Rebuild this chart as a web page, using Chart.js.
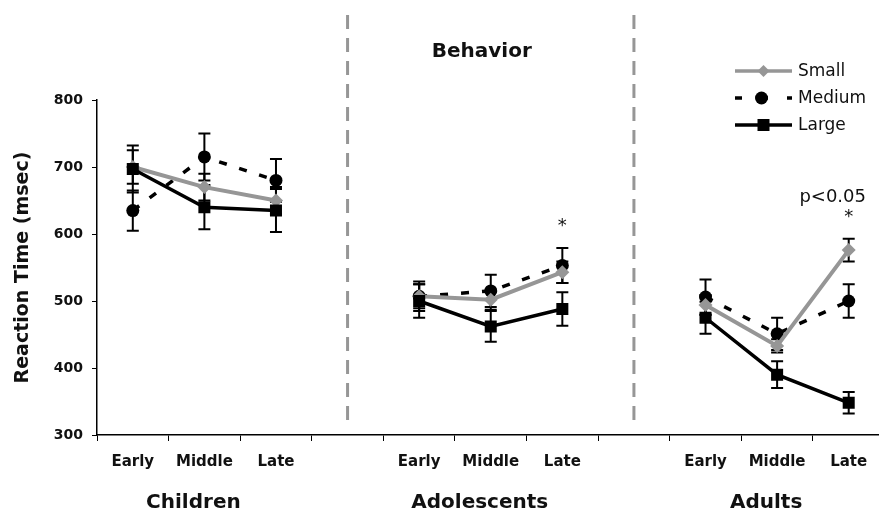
<!DOCTYPE html>
<html>
<head>
<meta charset="utf-8">
<script src="https://cdn.jsdelivr.net/npm/chart.js@4/dist/chart.umd.min.js"></script>
<style>
  body { margin: 0; background: #fff; }
  #wrap { width: 879px; height: 511px; overflow: hidden; }
</style>
</head>
<body>
<div id="wrap"><canvas id="rtChart" width="893" height="511"></canvas></div>
<script>
  // categories: three stages per age group, empty slots between groups
  const stages = ['Early', 'Middle', 'Late', '', 'Early', 'Middle', 'Late', '', 'Early', 'Middle', 'Late'];
  const groups = ['Children', 'Adolescents', 'Adults'];
  const groupIndex = [1, 5, 9];
  const gapIndex = [3, 7];

  // reaction time (msec)
  const smallRT  = [700, 670, 650, null, 507, 502, 543, null, 494, 433, 576];
  const mediumRT = [635, 715, 680, null, 507, 515, 553, null, 506, 451, 500];
  const largeRT  = [697, 640, 635, null, 500, 462, 488, null, 475, 390, 348];

  // error bar half lengths
  const smallErr  = [25, 20, 20, null, 18, 15, 16, null, 15, 10, 17];
  const mediumErr = [30, 35, 32, null, 22, 24, 26, null, 26, 24, 25];
  const largeErr  = [35, 33, 32, null, 25, 23, 25, null, 24, 20, 16];

  const yTicks = [300, 400, 500, 600, 700, 800];

  const gray = 'rgb(150,150,150)';
  const font = "'DejaVu Sans', Verdana, sans-serif";

  const errorBars = {
    id: 'errorBars',
    beforeDatasetsDraw(chart) {
      const { ctx, scales: { x, y } } = chart;
      const sets = [[smallRT, smallErr], [mediumRT, mediumErr], [largeRT, largeErr]];
      ctx.save();
      ctx.strokeStyle = '#000';
      ctx.lineWidth = 2;
      sets.forEach(([vals, errs]) => {
        vals.forEach((v, i) => {
          if (v === null) return;
          const px = x.getPixelForValue(i);
          const top = y.getPixelForValue(v + errs[i]);
          const bot = y.getPixelForValue(v - errs[i]);
          ctx.beginPath();
          ctx.moveTo(px, top); ctx.lineTo(px, bot);
          ctx.moveTo(px - 6, top); ctx.lineTo(px + 6, top);
          ctx.moveTo(px - 6, bot); ctx.lineTo(px + 6, bot);
          ctx.stroke();
        });
      });
      ctx.restore();
    }
  };

  const decorations = {
    id: 'decorations',
    beforeDraw(chart) {
      const { ctx, chartArea, scales: { x } } = chart;
      ctx.save();
      ctx.strokeStyle = gray;
      ctx.lineWidth = 3;
      ctx.setLineDash([14, 9]);
      gapIndex.forEach(i => {
        const px = x.getPixelForValue(i);
        ctx.beginPath();
        ctx.moveTo(px, 15);
        ctx.lineTo(px, chartArea.bottom - 8);
        ctx.stroke();
      });
      ctx.restore();
    },
    afterDraw(chart) {
      const { ctx, scales: { x, y } } = chart;
      ctx.save();
      ctx.fillStyle = '#111';
      ctx.textAlign = 'center';
      ctx.textBaseline = 'alphabetic';

      // group names under the stage labels
      ctx.font = 'bold 20px ' + font;
      groups.forEach((g, k) => {
        ctx.fillText(g, x.getPixelForValue(groupIndex[k]) - 11, 508);
      });

      // panel title
      ctx.font = 'bold 20px ' + font;
      ctx.fillText('Behavior', x.getPixelForValue(5) - 9, 57);

      // significance marks
      ctx.textBaseline = 'middle';
      ctx.font = '18px ' + font;
      ctx.fillText('*', x.getPixelForValue(6), y.getPixelForValue(612));
      ctx.fillText('*', x.getPixelForValue(10), y.getPixelForValue(625));
      ctx.font = '18px ' + font;
      ctx.fillText('p<0.05', x.getPixelForValue(10) - 16, y.getPixelForValue(655));

      // legend
      const lx = 735, lw = 57;
      const rows = [
        { label: 'Small', y: 71, color: gray, dash: [], style: 'diamond' },
        { label: 'Medium', y: 98, color: '#000', dash: [7, 19], style: 'circle' },
        { label: 'Large', y: 125, color: '#000', dash: [], style: 'square' }
      ];
      rows.forEach(r => {
        ctx.strokeStyle = r.color;
        ctx.fillStyle = r.color;
        ctx.lineWidth = 3.5;
        ctx.setLineDash(r.dash);
        ctx.beginPath();
        ctx.moveTo(lx, r.y); ctx.lineTo(lx + lw, r.y);
        ctx.stroke();
        ctx.setLineDash([]);
        const cx = lx + lw / 2;
        ctx.beginPath();
        if (r.style === 'diamond') {
          ctx.moveTo(cx, r.y - 6); ctx.lineTo(cx + 6, r.y); ctx.lineTo(cx, r.y + 6); ctx.lineTo(cx - 6, r.y);
          ctx.closePath();
        } else if (r.style === 'circle') {
          ctx.arc(cx - 2, r.y, 6.5, 0, Math.PI * 2);
        } else {
          ctx.rect(cx - 6, r.y - 6, 12, 12);
        }
        ctx.fill();
        ctx.fillStyle = '#111';
        ctx.textAlign = 'left';
        ctx.font = '17px ' + font;
        ctx.fillText(r.label, lx + lw + 6, r.y + 1);
      });
      ctx.restore();
    }
  };

  const rtChart = new Chart(document.getElementById('rtChart'), {
    type: 'line',
    data: {
      labels: stages,
      datasets: [
        {
          label: 'Small', data: smallRT, order: 2,
          borderColor: gray, backgroundColor: gray, borderWidth: 4,
          pointStyle: 'rectRot', pointRadius: 7, pointBorderWidth: 0
        },
        {
          label: 'Medium', data: mediumRT, order: 3,
          borderColor: '#000', backgroundColor: '#000', borderWidth: 3.5, borderDash: [8, 13],
          pointStyle: 'circle', pointRadius: 6.5, pointBorderWidth: 0
        },
        {
          label: 'Large', data: largeRT, order: 1,
          borderColor: '#000', backgroundColor: '#000', borderWidth: 3.5,
          pointStyle: 'rect', pointRadius: 8.5, pointBorderWidth: 0
        }
      ]
    },
    options: {
      responsive: false,
      animation: false,
      spanGaps: false,
      layout: { padding: { top: 100, right: 0, left: 0, bottom: 0 } },
      plugins: {
        legend: { display: false },
        tooltip: { enabled: false }
      },
      scales: {
        x: {
          offset: true,
          afterFit(scale) { scale.height = 76; },
          grid: { offset: true, drawOnChartArea: false, drawTicks: true, tickLength: 6, color: '#000' },
          border: { display: true, color: '#000', width: 1.5 },
          ticks: {
            autoSkip: false, maxRotation: 0, padding: 12, color: '#111',
            font: { family: font, size: 15, weight: 'bold' }
          }
        },
        y: {
          min: 300, max: 800,
          afterFit(scale) { scale.width = 97; },
          afterBuildTicks(scale) { scale.ticks = yTicks.map(v => ({ value: v })); },
          grid: { drawOnChartArea: false, drawTicks: true, tickLength: 5, color: '#000' },
          border: { display: true, color: '#000', width: 1.5 },
          ticks: {
            padding: 9, color: '#111',
            font: { family: font, size: 14, weight: 'bold' }
          },
          title: {
            display: true, text: 'Reaction Time (msec)', color: '#111',
            padding: { top: 12, bottom: 0 },
            font: { family: font, size: 19, weight: 'bold' }
          }
        }
      }
    },
    plugins: [decorations, errorBars]
  });
</script>
</body>
</html>
